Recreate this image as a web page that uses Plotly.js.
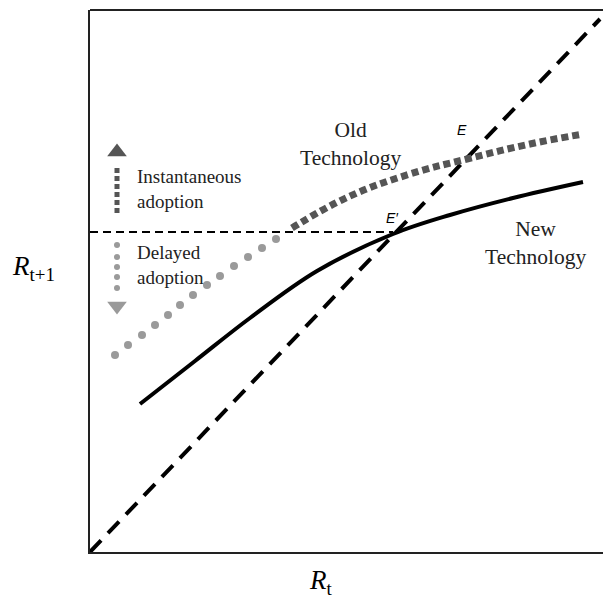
<!DOCTYPE html>
<html>
<head>
<meta charset="utf-8">
<script src="https://cdn.plot.ly/plotly-3.0.1.min.js"></script>
<style>html,body{margin:0;padding:0;background:#fff;}#chart{width:603px;height:598px;}</style>
</head>
<body>
<div id="chart"></div>
<script>
// Values (chart units: x = R_t, y = R_t+1)
var diagX = [0, 510];
var diagY = [0, 533];

var oldTechX = [202, 258, 320, 377, 440, 493];
var oldTechY = [324, 355, 378, 393, 408, 418];

var delayedX = [25, 38, 52, 65, 78, 90, 103, 117, 130, 144, 158, 172, 186];
var delayedY = [197, 207, 217, 227, 237, 247, 257, 267, 276, 286, 295, 304, 313];

var newTechX = [50, 105, 160, 227, 303, 360, 423, 493];
var newTechY = [148, 191, 234, 281, 318, 337, 354, 370];

var thresholdX = [0, 303];
var thresholdY = [320, 320];

var instArrowX = [27, 27];
var instArrowY = [339, 384];
var instHeadY = [400];

var delayDotsX = [27, 27, 27, 27, 27];
var delayDotsY = [307, 295, 285, 275, 264];
var delayHeadY = [246];

var dark = '#555555';
var light = '#9a9a9a';

var traces = [
  {x: diagX, y: diagY, mode: 'lines', line: {color: '#000', width: 4, dash: '16px,10px'}, hoverinfo: 'skip'},
  {x: thresholdX, y: thresholdY, mode: 'lines', line: {color: '#000', width: 2, dash: '8px,5px'}, hoverinfo: 'skip'},
  {x: newTechX, y: newTechY, mode: 'lines', line: {color: '#000', width: 4, shape: 'spline', smoothing: 1}, hoverinfo: 'skip'},
  {x: oldTechX, y: oldTechY, mode: 'lines', line: {color: dark, width: 7, dash: '7px,4px', shape: 'spline', smoothing: 1.2}, hoverinfo: 'skip'},
  {x: delayedX, y: delayedY, mode: 'markers', marker: {color: light, size: 8, symbol: 'circle'}, hoverinfo: 'skip'},
  {x: instArrowX, y: instArrowY, mode: 'lines', line: {color: dark, width: 5, dash: '5px,3px'}, hoverinfo: 'skip'},
  {x: [27], y: instHeadY, mode: 'markers', marker: {color: dark, size: 17, symbol: 'triangle-up'}, hoverinfo: 'skip'},
  {x: delayDotsX, y: delayDotsY, mode: 'markers', marker: {color: light, size: 6, symbol: 'circle'}, hoverinfo: 'skip'},
  {x: [27], y: delayHeadY, mode: 'markers', marker: {color: light, size: 17, symbol: 'triangle-down'}, hoverinfo: 'skip'}
];

var serif = 'Liberation Serif, Times New Roman, serif';
var sans = 'Liberation Sans, Arial, sans-serif';

var layout = {
  width: 603, height: 598,
  margin: {l: 90, r: 0, t: 10, b: 46},
  paper_bgcolor: '#fff', plot_bgcolor: '#fff',
  showlegend: false,
  xaxis: {range: [0, 513], showgrid: false, zeroline: false, showticklabels: false, ticks: '',
          showline: true, linecolor: '#222', linewidth: 2, fixedrange: true},
  yaxis: {range: [0, 542], showgrid: false, zeroline: false, showticklabels: false, ticks: '',
          showline: true, linecolor: '#222', linewidth: 2, fixedrange: true},
  shapes: [
    {type: 'line', xref: 'paper', yref: 'paper', x0: 0, x1: 1.01, y0: 1, y1: 1, line: {color: '#222', width: 2}}
  ],
  annotations: [
    {x: 260, y: 408, xref: 'x', yref: 'y', text: 'Old<br>Technology', showarrow: false,
     font: {family: serif, size: 21.5, color: '#222'}, align: 'center'},
    {x: 445, y: 309, xref: 'x', yref: 'y', text: 'New<br>Technology', showarrow: false,
     font: {family: serif, size: 21.5, color: '#222'}, align: 'center'},
    {x: 45, y: 363, xref: 'x', yref: 'y', xanchor: 'left', text: 'Instantaneous<br>adoption', showarrow: false,
     font: {family: serif, size: 19, color: '#222'}, align: 'left'},
    {x: 45, y: 287, xref: 'x', yref: 'y', xanchor: 'left', text: 'Delayed<br>adoption', showarrow: false,
     font: {family: serif, size: 19, color: '#222'}, align: 'left'},
    {x: 372, y: 422, xref: 'x', yref: 'y', text: '<i>E</i>', showarrow: false,
     font: {family: sans, size: 14, color: '#000'}},
    {x: 302, y: 334, xref: 'x', yref: 'y', text: '<i>E\u2032</i>', showarrow: false,
     font: {family: sans, size: 14, color: '#000'}},
    {x: (33 - 90) / 513, y: (552 - 268) / 542, xref: 'paper', yref: 'paper', xanchor: 'center', yanchor: 'middle',
     text: '<i>R</i><sub>t+1</sub>', showarrow: false, font: {family: serif, size: 27, color: '#000'}},
    {x: 0.451, y: -0.055, xref: 'paper', yref: 'paper', xanchor: 'center', yanchor: 'middle',
     text: '<i>R</i><sub>t</sub>', showarrow: false, font: {family: serif, size: 27, color: '#000'}}
  ]
};

Plotly.newPlot('chart', traces, layout, {staticPlot: true, displayModeBar: false});
</script>
</body>
</html>
